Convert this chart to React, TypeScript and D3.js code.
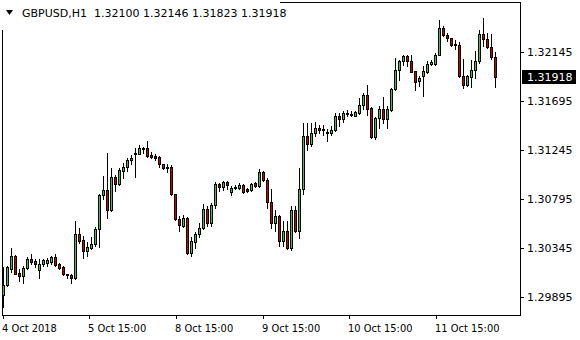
import React from "react";
import * as d3 from "d3";

const symbolLabel = "GBPUSD,H1";
const ohlcLabel = ["1.32100", "1.32146", "1.31823", "1.31918"];

const opens = [
  1.29911, 1.30002, 1.30149, 1.30271, 1.30119, 1.30088, 1.30165, 1.30247, 1.30225, 1.3014,
  1.30201, 1.30211, 1.30216, 1.30262, 1.30195, 1.3017, 1.30103, 1.30097, 1.30067, 1.30477,
  1.30415, 1.30319, 1.30342, 1.30378, 1.30516, 1.30828, 1.30874, 1.30693, 1.30996, 1.30929,
  1.31051, 1.31091, 1.31149, 1.31204, 1.3121, 1.3125, 1.31259, 1.31197, 1.31194, 1.31179,
  1.31112, 1.31091, 1.31091, 1.30837, 1.30614, 1.30546, 1.30623, 1.30302, 1.30403, 1.3047,
  1.30532, 1.30706, 1.30577, 1.30739, 1.30929, 1.30908, 1.3095, 1.30862, 1.30901, 1.30898,
  1.30919, 1.30883, 1.30876, 1.30938, 1.30913, 1.31045, 1.30974, 1.3077, 1.30577, 1.30635,
  1.30406, 1.30498, 1.30348, 1.3069, 1.305, 1.30883, 1.31378, 1.31302, 1.31397, 1.31449,
  1.31439, 1.31408, 1.31397, 1.31433, 1.31561, 1.31531, 1.31586, 1.3158, 1.31561, 1.31586,
  1.31662, 1.31754, 1.31632, 1.31366, 1.3154, 1.31623, 1.31531, 1.31616, 1.31806, 1.31983,
  1.32059, 1.32105, 1.32066, 1.31968, 1.31876, 1.31928, 1.31962, 1.32035, 1.32035, 1.32121,
  1.32365, 1.32304, 1.32274, 1.32222, 1.32212, 1.31928, 1.31846, 1.31916, 1.31983, 1.32059,
  1.32313, 1.32265, 1.32191, 1.321,
];
const highs = [
  1.30167, 1.30179, 1.30348, 1.30278, 1.30149, 1.30179, 1.30266, 1.30287, 1.30241, 1.30241,
  1.30241, 1.30256, 1.30271, 1.30287, 1.30211, 1.30179, 1.3011, 1.3011, 1.30592, 1.30532,
  1.30455, 1.30397, 1.30443, 1.30534, 1.30843, 1.31005, 1.31219, 1.31082, 1.31014, 1.31082,
  1.31128, 1.31173, 1.31197, 1.31265, 1.31295, 1.3127, 1.31326, 1.31228, 1.3121, 1.31188,
  1.31118, 1.31118, 1.31106, 1.30837, 1.30638, 1.30644, 1.30632, 1.30449, 1.30491, 1.30577,
  1.30745, 1.3073, 1.30761, 1.3095, 1.30944, 1.30959, 1.30959, 1.30913, 1.30919, 1.30938,
  1.30929, 1.30898, 1.30944, 1.3095, 1.31066, 1.31051, 1.3099, 1.30883, 1.3069, 1.30649,
  1.30593, 1.30593, 1.3073, 1.3073, 1.31082, 1.31494, 1.31494, 1.31494, 1.315, 1.31479,
  1.31479, 1.31439, 1.3147, 1.31586, 1.31586, 1.31601, 1.3161, 1.31601, 1.31601, 1.31724,
  1.31768, 1.31846, 1.31641, 1.31549, 1.31653, 1.31733, 1.31647, 1.31812, 1.3209, 1.32068,
  1.32121, 1.32121, 1.32121, 1.31968, 1.31928, 1.32013, 1.32059, 1.32068, 1.32136, 1.32442,
  1.3238, 1.3232, 1.32274, 1.32258, 1.32233, 1.32081, 1.31937, 1.32075, 1.32151, 1.32343,
  1.32457, 1.3232, 1.32313, 1.32146,
];
const lows = [
  1.29801, 1.29996, 1.30128, 1.30103, 1.30042, 1.30027, 1.30149, 1.30195, 1.30174, 1.30073,
  1.30179, 1.30179, 1.30201, 1.30179, 1.30149, 1.30097, 1.30073, 1.30027, 1.30057, 1.30394,
  1.30256, 1.30271, 1.30333, 1.3036, 1.30354, 1.30791, 1.30623, 1.30684, 1.30867, 1.30922,
  1.30984, 1.31051, 1.31112, 1.30996, 1.31204, 1.31219, 1.31179, 1.31167, 1.31149, 1.31087,
  1.31075, 1.31045, 1.3083, 1.30598, 1.305, 1.3054, 1.30287, 1.30271, 1.30348, 1.30449,
  1.30516, 1.30546, 1.30546, 1.30715, 1.30867, 1.30876, 1.30883, 1.3083, 1.30883, 1.30883,
  1.30853, 1.30856, 1.30867, 1.30904, 1.30908, 1.30959, 1.30715, 1.30532, 1.30498, 1.30363,
  1.30363, 1.30333, 1.30323, 1.30491, 1.3044, 1.30837, 1.31243, 1.3128, 1.31372, 1.31403,
  1.31387, 1.31326, 1.31387, 1.31418, 1.31463, 1.315, 1.31555, 1.31561, 1.31555, 1.3158,
  1.31621, 1.3157, 1.31357, 1.31348, 1.31449, 1.31494, 1.31449, 1.31601, 1.318, 1.31891,
  1.32029, 1.3202, 1.31958, 1.318, 1.3183, 1.31745, 1.31953, 1.32029, 1.32029, 1.32114,
  1.32288, 1.32243, 1.32197, 1.32173, 1.31916, 1.31815, 1.31836, 1.31824, 1.31907, 1.32045,
  1.32197, 1.32182, 1.32081, 1.31823,
];
const closes = [
  1.30002, 1.3017, 1.30271, 1.3011, 1.30088, 1.30165, 1.30247, 1.3022, 1.30201, 1.30201,
  1.30232, 1.30232, 1.30262, 1.30189, 1.30165, 1.30103, 1.30094, 1.30067, 1.30477, 1.30409,
  1.30317, 1.30351, 1.30378, 1.30516, 1.30828, 1.30874, 1.30693, 1.30996, 1.30929, 1.31057,
  1.31091, 1.31149, 1.31167, 1.31213, 1.31259, 1.31259, 1.31188, 1.31185, 1.31173, 1.31112,
  1.31082, 1.31082, 1.30837, 1.30608, 1.30553, 1.30623, 1.30302, 1.30409, 1.3047, 1.30532,
  1.30706, 1.30577, 1.30739, 1.30929, 1.30908, 1.3095, 1.30919, 1.30898, 1.30895, 1.30919,
  1.30862, 1.30867, 1.30935, 1.30913, 1.31045, 1.30968, 1.30768, 1.30577, 1.30635, 1.30406,
  1.30498, 1.30348, 1.3069, 1.305, 1.30883, 1.31378, 1.31302, 1.31397, 1.31449, 1.31426,
  1.31433, 1.31397, 1.31433, 1.31561, 1.31531, 1.31586, 1.31577, 1.3157, 1.31592, 1.31662,
  1.31754, 1.31623, 1.31366, 1.3154, 1.31623, 1.31531, 1.31623, 1.31806, 1.31983, 1.32059,
  1.32105, 1.32059, 1.31958, 1.31873, 1.31907, 1.31968, 1.32038, 1.3205, 1.32121, 1.32365,
  1.32304, 1.32274, 1.32212, 1.32212, 1.31922, 1.31846, 1.31922, 1.31983, 1.32066, 1.32313,
  1.32265, 1.32191, 1.321, 1.31918,
];

const priceTicks = [1.32145, 1.31695, 1.31245, 1.30795, 1.30345, 1.29895];
const timeTickBars = [0, 21.5, 43.2, 64.9, 86.5, 108.2];
const timeTickLabels = ["4 Oct 2018", "5 Oct 15:00", "8 Oct 15:00", "9 Oct 15:00", "10 Oct 15:00", "11 Oct 15:00"];

const W = 580;
const H = 340;
const plotLeft = 2;
const plotRight = 520;
const plotTop = 2;
const plotBottom = 315;
const UP = "#32cd32";
const DOWN = "#cc0000";
const FONT = "'DejaVu Sans', Verdana, sans-serif";
const FONT_NARROW = "'DejaVu Sans Condensed', 'DejaVu Sans', sans-serif";

export default function App() {
  const n = opens.length;
  const x = d3.scaleLinear().domain([0, n - 1]).range([3, 3 + 4 * (n - 1)]);
  const y = d3.scaleLinear().domain([1.29895, 1.32145]).range([297.5, 52.5]);
  const last = closes[n - 1];

  const candles = opens.map((o, i) => {
    const c = closes[i];
    const col = Math.round(x(i));
    const yH = Math.round(y(highs[i]) - 0.5);
    const yL = Math.round(y(lows[i]) - 0.5);
    const top = Math.round(y(Math.max(o, c)) - 0.5);
    const bot = Math.round(y(Math.min(o, c)) - 0.5);
    const color = c > o ? UP : c < o ? DOWN : "#000";
    return (
      <g key={i}>
        <rect x={col} y={yH} width={1} height={yL - yH + 1} fill="#000" />
        <rect x={col - 1} y={top} width={3} height={bot - top + 1} fill="#000" />
        {bot - top >= 2 && (
          <rect x={col} y={top + 1} width={1} height={bot - top - 1} fill={color} />
        )}
      </g>
    );
  });

  const lastY = Math.round(y(last) - 0.5);

  return (
    <svg width={W} height={H} style={{ position: "absolute", left: 0, top: 0, background: "#fff" }}>
      <rect x={0} y={0} width={W} height={H} fill="#fff" />
      {candles}
      <rect
        x={plotLeft + 0.5}
        y={plotTop + 0.5}
        width={plotRight - plotLeft}
        height={plotBottom - plotTop}
        fill="none"
        stroke="#000"
        strokeWidth={1}
      />
      {priceTicks.map((p) => {
        const py = Math.round(y(p) - 0.5) + 0.5;
        return (
          <g key={p}>
            <line x1={plotRight + 0.5} x2={plotRight + 4} y1={py} y2={py} stroke="#000" />
            <text x={527} y={py} dy="0.36em" fontFamily={FONT} fontSize={11} fill="#000">
              {p.toFixed(5)}
            </text>
          </g>
        );
      })}
      <rect x={522} y={lastY - 7} width={54} height={14} fill="#000" />
      <text x={527} y={lastY} dy="0.36em" fontFamily={FONT} fontSize={11} fill="#fff">
        {last.toFixed(5)}
      </text>
      {timeTickBars.map((b, k) => {
        const tx = Math.round(x(b)) + 0.5;
        return (
          <g key={k}>
            <line x1={tx} x2={tx} y1={plotBottom + 0.5} y2={plotBottom + 4} stroke="#000" />
            <text
              x={tx - 1.5}
              y={332}
              fontFamily={FONT_NARROW}
              fontStretch="condensed"
              fontSize={11}
              fill="#000"
            >
              {timeTickLabels[k]}
            </text>
          </g>
        );
      })}
      <rect x={0} y={0} width={280} height={30} fill="#fff" />
      <path d="M6,10 L13,10 L9.5,15 Z" fill="#000" />
      <text x={22} y={17} fontFamily={FONT} fontSize={11} fill="#000" style={{ whiteSpace: "pre" }}>
        {symbolLabel + "  " + ohlcLabel.join(" ")}
      </text>
    </svg>
  );
}
